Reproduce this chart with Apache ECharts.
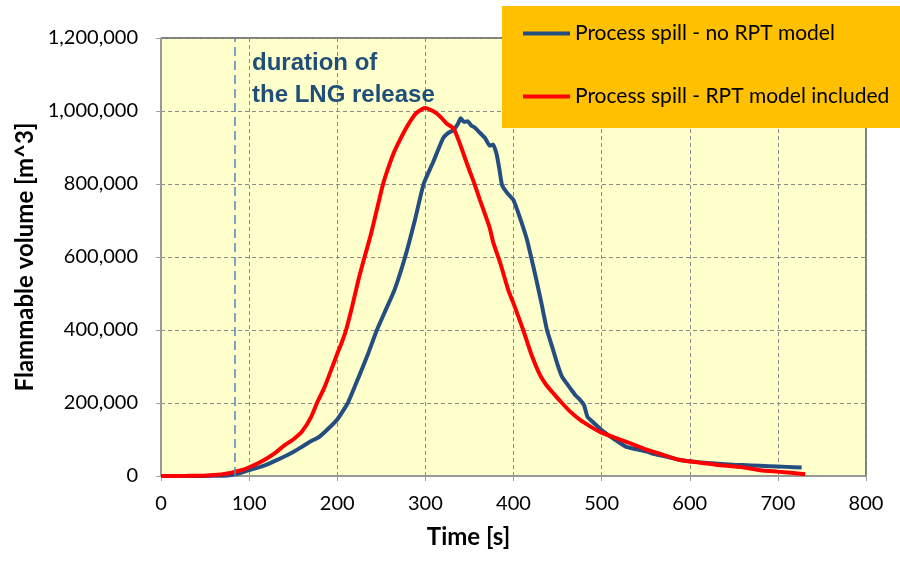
<!DOCTYPE html>
<html>
<head>
<meta charset="utf-8">
<script src="https://cdn.jsdelivr.net/npm/echarts@6/dist/echarts.min.js"></script>
<style>html,body{margin:0;padding:0;background:#fff}#c{width:900px;height:562px}</style>
</head>
<body>
<div id="c"></div>
<script>
// Axis ticks
const xTicks = [0, 100, 200, 300, 400, 500, 600, 700, 800];
const yTicks = [0, 200000, 400000, 600000, 800000, 1000000, 1200000];

// Release duration marker (s)
const releaseEnd = 84;

// Series: Process spill - no RPT model
const timeNoRPT = [0, 50, 70, 80, 90, 100, 110, 120, 130, 143, 150, 160, 170, 180, 190, 200, 212, 225, 235, 245, 255, 265, 277, 288, 298, 309, 320, 326, 332, 337, 340, 344, 348, 352, 356, 362, 368, 373, 377, 381, 384, 387, 393, 400, 407, 415, 420, 426, 432, 438, 445, 450, 455, 460, 466, 470, 475, 480, 484, 490, 500, 510, 518, 528, 540, 551, 560, 575, 589, 610, 630, 650, 670, 690, 710, 727];
const volNoRPT = [0, 0, 1000, 3000, 8000, 16000, 23000, 31000, 42000, 57000, 66000, 80000, 95000, 108000, 130000, 155000, 200000, 275000, 335000, 400000, 455000, 510000, 600000, 700000, 800000, 861000, 925000, 940000, 948000, 965000, 980000, 970000, 972000, 960000, 955000, 940000, 925000, 905000, 908000, 880000, 840000, 797000, 775000, 756000, 710000, 650000, 600000, 537000, 470000, 400000, 345000, 305000, 272000, 255000, 235000, 222000, 210000, 194000, 162000, 148000, 126000, 108000, 95000, 80000, 73000, 67000, 60000, 52000, 44000, 38000, 34000, 31000, 29000, 27000, 25000, 23000];

// Series: Process spill - RPT model included
const timeRPT = [0, 30, 50, 60, 70, 80, 90, 100, 110, 120, 130, 140, 145, 150, 160, 170, 177, 185, 193, 200, 205, 210, 217, 224, 231, 238, 245, 252, 258, 265, 272, 279, 285, 290, 296, 300, 305, 312, 318, 324, 332, 340, 347, 355, 362, 373, 377, 385, 394, 400, 411, 420, 430, 437, 445, 455, 465, 476, 487, 498, 515, 532, 550, 570, 589, 610, 630, 660, 680, 700, 715, 731];
const volRPT = [0, 500, 1500, 3000, 5000, 9000, 15000, 24000, 35000, 48000, 64000, 84000, 92000, 100000, 122000, 160000, 200000, 240000, 290000, 335000, 365000, 400000, 465000, 537000, 600000, 660000, 730000, 800000, 845000, 890000, 925000, 957000, 980000, 995000, 1005000, 1008000, 1004000, 995000, 982000, 966000, 952000, 905000, 857000, 805000, 756000, 680000, 640000, 583000, 510000, 473000, 400000, 335000, 277000, 250000, 227000, 200000, 175000, 153000, 136000, 121000, 105000, 90000, 73000, 58000, 44000, 37000, 31000, 24000, 16000, 12000, 9000, 5000];

const seriesNames = ['Process spill - no RPT model', 'Process spill - RPT model included'];
const annotation = 'duration of\nthe LNG release';

const pairs = (t, v) => t.map((x, i) => [x, v[i]]);
const fmt = v => v.toString().replace(/\B(?=(\d{3})+(?!\d))/g, ',');

const chart = echarts.init(document.getElementById('c'), null, {renderer: 'canvas'});
chart.setOption({
  animation: false,
  backgroundColor: '#ffffff',
  textStyle: {fontFamily: 'Lato'},
  grid: {left: 161, right: 34, top: 38, bottom: 86, show: true, backgroundColor: '#FFFFCC', borderColor: '#000000', borderWidth: 1},
  legend: {
    orient: 'vertical', left: 502, top: 6,
    backgroundColor: '#FFC000',
    padding: [17, 40, 21, 21],
    itemGap: 42, itemWidth: 47, itemHeight: 24,
    icon: 'path://M0,10 L47,10 L47,14 L0,14 Z',
    textStyle: {fontFamily: 'Lato', fontSize: 21, color: '#000'},
    data: seriesNames
  },
  xAxis: {
    type: 'value', min: xTicks[0], max: xTicks[xTicks.length - 1], interval: 100,
    name: 'Time [s]', nameLocation: 'middle', nameGap: 49,
    nameTextStyle: {fontFamily: 'Lato', fontSize: 24, fontWeight: 'bold', color: '#000', padding: [0, 90, 0, 0]},
    axisLine: {onZero: false, lineStyle: {color: '#a0a0a0', width: 1.5}},
    axisTick: {show: true, length: 5, lineStyle: {color: '#a0a0a0'}},
    axisLabel: {fontFamily: 'Lato', fontSize: 20, color: '#000', margin: 18},
    splitLine: {show: true, lineStyle: {color: '#8c8c8c', type: [4, 3], width: 1}}
  },
  yAxis: {
    type: 'value', min: yTicks[0], max: yTicks[yTicks.length - 1], interval: 200000,
    name: 'Flammable volume [m^3]', nameLocation: 'middle', nameGap: 124,
    nameTextStyle: {fontFamily: 'Lato', fontSize: 24, fontWeight: 'bold', color: '#000'},
    axisLine: {show: true, lineStyle: {color: '#a0a0a0', width: 1.5}},
    axisTick: {show: true, length: 5, lineStyle: {color: '#a0a0a0'}},
    axisLabel: {fontFamily: 'Lato', fontSize: 20, color: '#000', margin: 23, formatter: fmt},
    splitLine: {show: true, lineStyle: {color: '#8c8c8c', type: [4, 3], width: 1}}
  },
  series: [
    {
      name: seriesNames[0], type: 'line', showSymbol: false, symbol: 'none', smooth: 0.15,
      data: pairs(timeNoRPT, volNoRPT),
      lineStyle: {color: '#254E80', width: 4}, itemStyle: {color: '#254E80'},
      z: 3,
      markLine: {
        silent: true, symbol: 'none', label: {show: false},
        lineStyle: {color: '#5585c0', type: [9, 5], width: 1.5},
        data: [{xAxis: releaseEnd}]
      }
    },
    {
      name: seriesNames[1], type: 'line', showSymbol: false, symbol: 'none', smooth: 0.2,
      data: pairs(timeRPT, volRPT),
      lineStyle: {color: '#FF0000', width: 4}, itemStyle: {color: '#FF0000'},
      z: 4
    }
  ],
  graphic: [{
    type: 'text', left: 252, top: 47, z: 10,
    style: {text: annotation, fontFamily: 'Liberation Sans', fontSize: 24, fontWeight: 'bold', fill: '#1F4E79', lineHeight: 32}
  }]
});
</script>
</body>
</html>
